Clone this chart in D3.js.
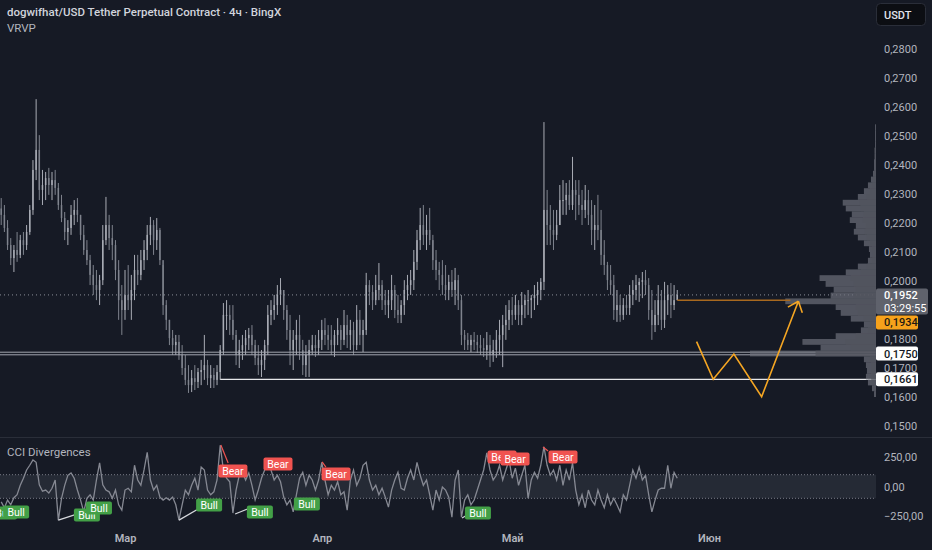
<!DOCTYPE html>
<html>
<head>
<meta charset="utf-8">
<script src="https://cdn.jsdelivr.net/npm/d3@7"></script>
<style>
  html, body { margin: 0; padding: 0; background: #161a25; }
  svg { display: block; font-family: Roboto, "Noto Sans", sans-serif; }
</style>
</head>
<body>
<svg id="chart" width="932" height="550"></svg>
<script>
// ---- data (12h bars) ----
var barStart = new Date(2024, 1, 10, 12);
var barStepMs = 12 * 3600 * 1000;
var firstOpen = 0.2250;

var barHigh = [
  .2286,.2262,.2210,.2148,.2124,.2169,.2159,.2169,.2193,.2262,
  .2417,.2627,.2503,.2383,.2376,.2390,.2376,.2383,.2338,.2297,
  .2238,.2210,.2262,.2279,.2286,.2228,.2193,.2141,.2090,.2055,
  .2038,.2021,.2193,.2290,.2228,.2193,.2141,.2072,.1986,.2038,
  .2055,.2021,.2090,.2090,.2107,.2141,.2193,.2221,.2210,.2217,
  .2183,.2055,.1934,.1866,.1831,.1814,.1814,.1779,.1745,.1710,
  .1693,.1710,.1700,.1728,.1814,.1728,.1710,.1700,.1710,.1779,
  .1924,.1934,.1917,.1917,.1831,.1797,.1814,.1831,.1838,.1848,
  .1797,.1779,.1762,.1797,.1917,.1934,.1952,.1986,.2010,.1969,
  .1917,.1883,.1831,.1866,.1883,.1797,.1779,.1797,.1814,.1814,
  .1831,.1866,.1872,.1848,.1848,.1831,.1872,.1848,.1900,.1883,
  .1866,.1859,.1917,.1900,.1866,.2028,.2003,.1986,.2021,.2062,
  .2003,.1969,.1969,.2021,.1986,.1952,.1934,.2003,.2021,.2038,
  .2107,.2176,.2252,.2262,.2228,.2252,.2159,.2107,.2066,.2072,
  .2055,.2021,.2038,.2045,.2021,.1952,.1831,.1821,.1814,.1824,
  .1814,.1814,.1803,.1824,.1814,.1797,.1831,.1866,.1883,.1917,
  .1934,.1945,.1952,.1934,.1962,.1952,.1969,.1952,.1986,.1997,
  .2010,.2548,.2314,.2262,.2245,.2245,.2331,.2348,.2338,.2348,
  .2428,.2348,.2348,.2314,.2331,.2314,.2279,.2262,.2297,.2245,
  .2141,.2066,.2055,.2021,.1969,.1952,.1941,.1952,.1986,.2003,
  .2021,.2010,.2031,.2038,.2010,.1969,.1934,.1986,.1969,.1997,
  .1986,.1993,.1986,.1969
];
var barLow = [
  .2193,.2169,.2107,.2055,.2031,.2066,.2079,.2090,.2107,.2159,
  .2228,.2348,.2279,.2262,.2279,.2297,.2279,.2297,.2245,.2203,
  .2141,.2124,.2159,.2193,.2203,.2141,.2090,.2055,.1986,.1952,
  .1934,.1917,.1986,.2124,.2107,.2072,.2003,.1866,.1814,.1866,
  .1900,.1866,.1934,.1986,.2003,.2038,.2072,.2124,.2090,.2107,
  .2055,.1883,.1831,.1779,.1745,.1745,.1728,.1676,.1641,.1614,
  .1617,.1624,.1631,.1641,.1659,.1641,.1631,.1631,.1641,.1659,
  .1745,.1831,.1814,.1797,.1710,.1700,.1728,.1745,.1762,.1745,
  .1710,.1676,.1669,.1693,.1745,.1848,.1866,.1883,.1917,.1866,
  .1797,.1710,.1693,.1745,.1728,.1676,.1669,.1669,.1745,.1738,
  .1745,.1762,.1779,.1762,.1745,.1738,.1779,.1762,.1779,.1769,
  .1762,.1745,.1762,.1779,.1755,.1814,.1917,.1900,.1917,.1934,
  .1900,.1883,.1872,.1900,.1872,.1855,.1855,.1883,.1934,.1952,
  .1969,.2038,.2107,.2124,.2107,.2124,.2038,.2003,.1969,.1952,
  .1934,.1934,.1945,.1917,.1900,.1779,.1762,.1762,.1755,.1762,
  .1752,.1745,.1738,.1728,.1703,.1721,.1735,.1745,.1703,.1797,
  .1831,.1848,.1866,.1848,.1848,.1872,.1883,.1872,.1900,.1917,
  .1934,.1969,.2124,.2124,.2107,.2141,.2193,.2228,.2228,.2245,
  .2245,.2210,.2228,.2193,.2217,.2193,.2124,.2107,.2141,.2055,
  .2021,.1969,.1952,.1866,.1859,.1859,.1866,.1883,.1883,.1917,
  .1934,.1928,.1941,.1952,.1866,.1797,.1824,.1848,.1831,.1838,
  .1883,.1872,.1900,.1934
];
var barClose = [
  .2228,.2183,.2124,.2079,.2107,.2090,.2141,.2124,.2169,.2245,
  .2383,.2452,.2314,.2331,.2355,.2331,.2348,.2321,.2262,.2217,
  .2169,.2183,.2228,.2245,.2228,.2159,.2107,.2072,.2021,.1986,
  .1969,.2003,.2141,.2193,.2148,.2124,.2038,.1934,.1900,.1952,
  .1934,.1969,.2038,.2021,.2072,.2107,.2159,.2193,.2141,.2176,
  .2072,.1917,.1866,.1803,.1779,.1790,.1745,.1700,.1659,.1641,
  .1665,.1652,.1686,.1693,.1710,.1665,.1676,.1659,.1686,.1762,
  .1883,.1883,.1866,.1814,.1745,.1762,.1779,.1803,.1814,.1779,
  .1735,.1710,.1728,.1779,.1883,.1900,.1917,.1952,.1969,.1900,
  .1831,.1762,.1797,.1814,.1762,.1710,.1745,.1762,.1779,.1769,
  .1797,.1831,.1814,.1797,.1779,.1814,.1831,.1797,.1848,.1814,
  .1831,.1779,.1866,.1814,.1831,.1986,.1962,.1934,.1969,.1986,
  .1934,.1917,.1934,.1969,.1900,.1883,.1917,.1969,.1986,.2003,
  .2066,.2141,.2193,.2159,.2176,.2141,.2072,.2038,.2021,.1986,
  .1969,.1997,.1969,.2003,.1934,.1814,.1797,.1779,.1797,.1790,
  .1779,.1769,.1762,.1779,.1745,.1762,.1797,.1814,.1848,.1866,
  .1900,.1883,.1917,.1883,.1917,.1934,.1934,.1941,.1952,.1969,
  .1997,.2245,.2193,.2176,.2159,.2193,.2279,.2279,.2297,.2262,
  .2314,.2297,.2262,.2245,.2279,.2228,.2176,.2193,.2176,.2090,
  .2055,.2003,.1986,.1900,.1917,.1883,.1917,.1907,.1952,.1969,
  .1986,.1997,.2003,.1986,.1900,.1848,.1883,.1934,.1866,.1934,
  .1952,.1917,.1934,.1952
];

// CCI per bar
var cciValues = [
  -130,-180,-115,-155,-95,-70,10,70,140,180,
  225,205,15,-40,-30,-55,-15,55,-285,-100,
  10,95,115,70,-30,-115,-215,-100,-70,-115,
  55,200,15,-30,-45,-100,-30,-155,-200,-30,
  -15,-45,180,55,10,140,290,55,-30,10,
  -90,-115,-95,-115,-90,-155,-285,-155,-30,-70,
  10,70,-30,165,140,-30,-70,-45,55,350,
  140,70,40,-225,-30,95,120,55,115,10,
  -115,-30,70,140,200,140,55,95,40,-90,
  -155,-115,-215,-70,70,120,10,95,55,-30,
  55,205,55,-70,10,-30,40,-70,-45,-200,
  55,140,10,70,180,205,55,-30,10,-70,
  -15,-90,-175,-30,55,120,-15,-30,70,140,
  55,205,95,10,55,-70,-200,-30,-115,-5,
  -30,-90,-260,55,140,-260,-115,-70,-155,-115,
  -30,55,140,285,140,55,95,180,55,140,
  225,70,155,10,95,180,-100,55,120,70,
  180,335,180,95,140,55,180,10,140,55,
  200,-30,-155,-70,-180,-30,-115,-155,-30,-115,
  -180,-70,-155,-100,-155,-215,-70,-115,10,140,
  70,165,55,95,-70,-215,-115,-30,-15,-15,
  180,-15,120,70
];

// divergence lines: [bar1, cci1, bar2, cci2]
var bullLines = [[18, -285, 26, -215], [56, -285, 62.6, -182], [73.7, -233, 78.4, -182], [145.2, -267, 146.8, -242]];
var bearLines = [[69.2, 352, 71.5, 199], [101.1, 208, 102.3, 165], [170.7, 335, 172.3, 301]];
// divergence labels: [bar, cci]
var bullLabels = [[0.9, -225], [4.7, -216], [27, -242], [30.8, -182], [65.5, -157], [81.5, -216], [96.3, -148], [150.2, -225]];
var bearLabels = [[73, 131], [87.2, 191], [105.5, 106], [157.8, 250], [161.9, 233], [177, 250]];

// volume profile (bins of 0.002 from 0.160)
var vpBinStart = 0.160, vpBinSize = 0.002;
var vpTotal = [2,4,8,10,9,10,12,125,55,73,40,15,12,25,35,40,90,45,42,50,56,30,18,8,6,7,12,18,22,20,26,24,30,33,18,12,8,5,3,2,2,1.5,1.5,1,1,1,1];
var vpUp    = [1,2,4,5,5,5,6,60,25,30,20,8,6,12,18,20,45,22,20,22,25,15,9,4,3,4,6,9,11,10,13,12,15,16,9,6,4,3,2,1,1,1,1,0.5,0.5,0.5,0.5];

// drawn levels
var lastPrice = 0.1952;
var rayPrice = 0.1934;
var supportLevel = 0.1750;
var lowLevel = 0.1661;
var lowLevelStartBar = 69;
var countdown = "03:29:55";

// projected path
var projDates = ["2024-05-30T01:00", "2024-06-01T16:00", "2024-06-04T22:00", "2024-06-09T07:00", "2024-06-15T02:00"];
var projPrices = [0.1791, 0.1661, 0.1748, 0.1601, 0.1930];

// axes
var priceTickValues = [0.15, 0.16, 0.17, 0.18, 0.20, 0.21, 0.22, 0.23, 0.24, 0.25, 0.26, 0.27, 0.28];
var cciTickValues = [-250, 0, 250];
var monthDates = [new Date(2024, 2, 1), new Date(2024, 3, 1), new Date(2024, 4, 1), new Date(2024, 5, 1)];
var monthNames = ["Мар", "Апр", "Май", "Июн"];

// ---- layout ----
var W = 932, H = 550;
var plotRight = 876;
var paneSplit = 437;
var bg = "#161a25";
var axisText = "#b2b5be";

var ru = d3.formatLocale({ decimal: ",", thousands: " ", grouping: [3], currency: ["", ""], minus: "\u2212" });
var fmtPrice = ru.format(".4f");
var fmtCci = ru.format(".2f");

var svg = d3.select("#chart");
svg.append("rect").attr("width", W).attr("height", H).attr("fill", bg);

var x = d3.scaleTime()
  .domain([new Date(2024, 2, 1), new Date(2024, 5, 1)])
  .range([125, 709]);
var y = d3.scaleLinear().domain([0.15, 0.28]).range([426, 49]);
var yc = d3.scaleLinear().domain([-250, 250]).range([516, 457]);

function barTime(i) { return new Date(+barStart + i * barStepMs); }
function bx(i) { return x(barTime(i)); }

svg.append("defs").append("clipPath").attr("id", "priceClip")
  .append("rect").attr("x", 0).attr("y", 0).attr("width", plotRight).attr("height", paneSplit);

var pricePane = svg.append("g").attr("clip-path", "url(#priceClip)");

// candles
var upCol = "#a9acb5", downCol = "#7f838d";
var bars = barClose.map(function(c, i) {
  return { i: i, o: i ? barClose[i - 1] : firstOpen, h: barHigh[i], l: barLow[i], c: c };
});
var candle = pricePane.append("g").selectAll("g").data(bars).enter().append("g");
candle.append("line")
  .attr("x1", function(d) { return bx(d.i); })
  .attr("x2", function(d) { return bx(d.i); })
  .attr("y1", function(d) { return y(d.h); })
  .attr("y2", function(d) { return y(d.l); })
  .attr("stroke", function(d) { return d.c >= d.o ? upCol : downCol; })
  .attr("stroke-width", 1);
candle.append("rect")
  .attr("x", function(d) { return bx(d.i) - 0.75; })
  .attr("width", 1.5)
  .attr("y", function(d) { return y(Math.max(d.o, d.c)); })
  .attr("height", function(d) { return Math.max(1, Math.abs(y(d.o) - y(d.c))); })
  .attr("fill", function(d) { return d.c >= d.o ? upCol : downCol; });

// last price dotted line
pricePane.append("line")
  .attr("x1", 0).attr("x2", plotRight)
  .attr("y1", y(lastPrice)).attr("y2", y(lastPrice))
  .attr("stroke", "#8a8e98").attr("stroke-width", 1).attr("stroke-dasharray", "1,3");

// support double line
[-1.3, 1.3].forEach(function(off) {
  pricePane.append("line")
    .attr("x1", 0).attr("x2", plotRight)
    .attr("y1", y(supportLevel) + off).attr("y2", y(supportLevel) + off)
    .attr("stroke", "#a3a6af").attr("stroke-width", 1);
});

// low level line
pricePane.append("line")
  .attr("x1", bx(lowLevelStartBar)).attr("x2", plotRight)
  .attr("y1", y(lowLevel)).attr("y2", y(lowLevel))
  .attr("stroke", "#e6e7ea").attr("stroke-width", 1.2);

// volume profile
var vpScale = d3.scaleLinear().domain([0, d3.max(vpTotal)]).range([0, 126]);
var vp = pricePane.append("g");
vpTotal.forEach(function(v, k) {
  var lo = vpBinStart + k * vpBinSize, hi = lo + vpBinSize;
  vp.append("rect")
    .attr("x", plotRight - vpScale(v)).attr("width", vpScale(v))
    .attr("y", y(hi)).attr("height", y(lo) - y(hi))
    .attr("fill", "#6c6f79").attr("opacity", 0.7);
  vp.append("rect")
    .attr("x", plotRight - vpScale(vpUp[k])).attr("width", vpScale(vpUp[k]))
    .attr("y", y(hi)).attr("height", y(lo) - y(hi))
    .attr("fill", "#51545e").attr("opacity", 0.75);
});

// ray from last bar to projection tip
var tipDate = new Date(projDates[projDates.length - 1]);
pricePane.append("line")
  .attr("x1", bx(barClose.length - 1)).attr("x2", x(tipDate) - 8)
  .attr("y1", y(rayPrice)).attr("y2", y(rayPrice))
  .attr("stroke", "#a8691f").attr("stroke-width", 1.5);

// projection path
var proj = projDates.map(function(d, k) { return [x(new Date(d)), y(projPrices[k])]; });
pricePane.append("path")
  .attr("d", d3.line()(proj))
  .attr("fill", "none").attr("stroke", "#f5a623").attr("stroke-width", 1.6)
  .attr("stroke-linejoin", "miter");
var p1 = proj[proj.length - 2], p2 = proj[proj.length - 1];
var ang = Math.atan2(p2[1] - p1[1], p2[0] - p1[0]);
[-0.7, 0.7].forEach(function(da) {
  pricePane.append("line")
    .attr("x1", p2[0]).attr("y1", p2[1])
    .attr("x2", p2[0] - 12 * Math.cos(ang + da))
    .attr("y2", p2[1] - 12 * Math.sin(ang + da))
    .attr("stroke", "#f5a623").attr("stroke-width", 1.6);
});

// title
svg.append("text").attr("x", 7).attr("y", 16)
  .attr("fill", "#d1d4dc").attr("font-size", 11.5).attr("font-weight", 500)
  .text("dogwifhat/USD Tether Perpetual Contract · 4ч · BingX");
svg.append("text").attr("x", 7).attr("y", 32)
  .attr("fill", axisText).attr("font-size", 11.5)
  .text("VRVP");

// price axis
var pAxis = svg.append("g").attr("transform", "translate(" + (plotRight + 2) + ",0)")
  .call(d3.axisRight(y).tickValues(priceTickValues).tickFormat(fmtPrice).tickSize(0).tickPadding(6));
pAxis.select(".domain").remove();
pAxis.selectAll("text").attr("fill", axisText).attr("font-size", 11).attr("font-family", "Roboto, sans-serif");

// USDT button
svg.append("rect").attr("x", 876.5).attr("y", 3.5).attr("width", 49).attr("height", 22).attr("rx", 4)
  .attr("fill", "#0c0e13").attr("stroke", "#2a2e39");
svg.append("text").attr("x", 884).attr("y", 18.5).attr("fill", "#e0e3eb")
  .attr("font-size", 11).attr("font-weight", 500).text("USDT");

// price labels
function priceBox(yTop, h, w, fill, lines, color) {
  svg.append("rect").attr("x", plotRight).attr("y", yTop).attr("width", w).attr("height", h)
    .attr("rx", 2).attr("fill", fill);
  lines.forEach(function(t, k) {
    svg.append("text").attr("x", plotRight + 8).attr("y", yTop + 11 + k * 12.5)
      .attr("fill", color).attr("font-size", 11).attr("font-weight", k ? 400 : 500).text(t);
  });
}
var lpTop = y(lastPrice) - 6.5;
priceBox(lpTop, 26, 52, "#5f626c", [fmtPrice(lastPrice), countdown], "#ffffff");
priceBox(lpTop + 27, 14, 42, "#f7a21b", [fmtPrice(rayPrice)], "#1e1a12");
priceBox(y(supportLevel) - 7, 14, 42, "#ffffff", [fmtPrice(supportLevel)], "#131722");
priceBox(y(lowLevel) - 7, 14, 42, "#ffffff", [fmtPrice(lowLevel)], "#131722");

// pane separator
svg.append("line").attr("x1", 0).attr("x2", W).attr("y1", paneSplit + 0.5).attr("y2", paneSplit + 0.5)
  .attr("stroke", "#2a2e39").attr("stroke-width", 1);

// CCI pane
var cciPane = svg.append("g");
cciPane.append("rect").attr("x", 0).attr("width", plotRight)
  .attr("y", yc(100)).attr("height", yc(-100) - yc(100))
  .attr("fill", "#7e8594").attr("opacity", 0.15);
[100, -100].forEach(function(v) {
  cciPane.append("line").attr("x1", 0).attr("x2", plotRight).attr("y1", yc(v)).attr("y2", yc(v))
    .attr("stroke", "#787b86").attr("stroke-dasharray", "1,2").attr("stroke-width", 1);
});
cciPane.append("path")
  .attr("d", d3.line().x(function(d, i) { return bx(i); }).y(function(d) { return yc(d); })(cciValues))
  .attr("fill", "none").attr("stroke", "#868993").attr("stroke-width", 1.3);

bullLines.forEach(function(l) {
  cciPane.append("line").attr("x1", bx(l[0])).attr("y1", yc(l[1])).attr("x2", bx(l[2])).attr("y2", yc(l[3]))
    .attr("stroke", "#d6d8dd").attr("stroke-width", 1.2);
});
bearLines.forEach(function(l) {
  cciPane.append("line").attr("x1", bx(l[0])).attr("y1", yc(l[1])).attr("x2", bx(l[2])).attr("y2", yc(l[3]))
    .attr("stroke", "#f05350").attr("stroke-width", 1.2);
});

function divLabel(d, txt, fill, w) {
  var cx = bx(d[0]), cy = yc(d[1]);
  cciPane.append("rect").attr("x", cx - w / 2).attr("y", cy - 6.5).attr("width", w).attr("height", 13)
    .attr("rx", 2).attr("fill", fill);
  cciPane.append("text").attr("x", cx).attr("y", cy + 4).attr("text-anchor", "middle")
    .attr("fill", "#ffffff").attr("font-size", 10.5).text(txt);
}
bullLabels.forEach(function(d) { divLabel(d, "Bull", "#43a047", 26); });
bearLabels.forEach(function(d) { divLabel(d, "Bear", "#f05350", 29); });

svg.append("text").attr("x", 7).attr("y", 456)
  .attr("fill", axisText).attr("font-size", 11.5).text("CCI Divergences");

var cAxis = svg.append("g").attr("transform", "translate(" + (plotRight + 2) + ",0)")
  .call(d3.axisRight(yc).tickValues(cciTickValues).tickFormat(fmtCci).tickSize(0).tickPadding(6));
cAxis.select(".domain").remove();
cAxis.selectAll("text").attr("fill", axisText).attr("font-size", 11).attr("font-family", "Roboto, sans-serif");

// time axis
var tAxis = svg.append("g").attr("transform", "translate(0,534)")
  .call(d3.axisBottom(x).tickValues(monthDates).tickFormat(function(d, i) { return monthNames[i]; }).tickSize(0).tickPadding(0));
tAxis.select(".domain").remove();
tAxis.selectAll("text").attr("fill", axisText).attr("font-size", 11).attr("font-weight", 600)
  .attr("font-family", "Roboto, sans-serif");
</script>
</body>
</html>
